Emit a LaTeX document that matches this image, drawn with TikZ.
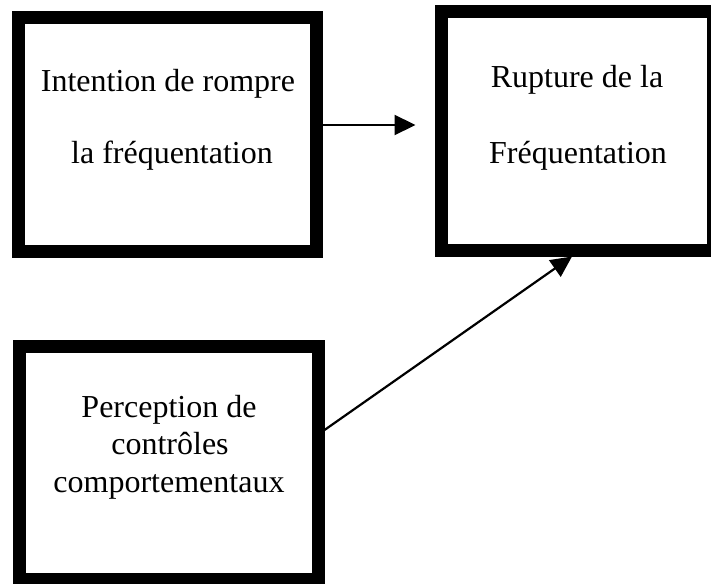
\documentclass[tikz,border=0pt]{standalone}
\usepackage{fontspec}
\setmainfont{Liberation Serif}
\usetikzlibrary{arrows.meta}
\begin{document}
\begin{tikzpicture}[x=1pt,y=-1pt,
  box/.style={draw=black, line width=13pt, inner sep=0pt},
  lbl/.style={anchor=base, inner sep=0pt, font=\fontsize{32}{38}\selectfont},
  conn/.style={draw=black, line width=2.2pt, -{Triangle[length=21pt,width=20pt]}}]
\useasboundingbox (0,0) rectangle (711,583);
\clip (0,0) rectangle (711,583);
% boxes
\node[box, minimum width=298pt, minimum height=234pt] (tl) at (167.5,134.5) {};
\node[box, minimum width=272.5pt, minimum height=238pt] (tr) at (577.25,131) {};
\node[box, minimum width=299pt, minimum height=233.5pt] (bl) at (168.5,462.75) {};
% texts
\node[lbl] (tla) at (168,92) {Intention de rompre};
\node[lbl] (tlb) at (172,163) {la fréquentation};
\node[lbl] (tra) at (577,88) {Rupture de la};
\node[lbl] (trb) at (578,163) {Fréquentation};
\node[lbl] (bla) at (169,417) {Perception de};
\node[lbl] (blb) at (170,454.5) {contrôles};
\node[lbl] (blc) at (169,492) {comportementaux};
% connectors
\draw[conn, shorten >=19pt] ([yshift=9.5pt]tl.east) -- ([yshift=9.5pt]tl.east -| tr.west);
\draw[conn] ([yshift=32.75pt]bl.east) -- ([xshift=-5.25pt]tr.south);
\end{tikzpicture}
\end{document}
